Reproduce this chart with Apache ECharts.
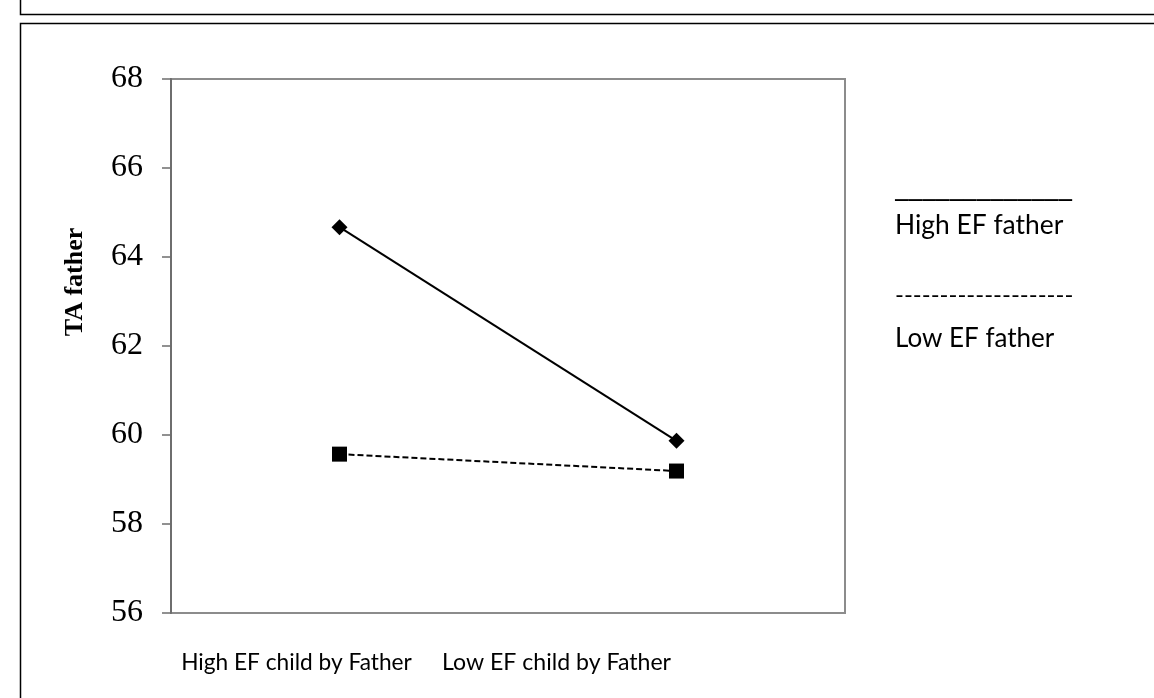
<!DOCTYPE html>
<html>
<head>
<meta charset="utf-8">
<script src="https://cdn.jsdelivr.net/npm/echarts@6/dist/echarts.min.js"></script>
<style>
html,body{margin:0;padding:0;background:#fff;}
#chart{width:1154px;height:698px;}
</style>
</head>
<body>
<div id="chart"></div>
<script>
const categories = ['High EF child by Father', 'Low EF child by Father'];
const highEFFather = [64.67, 59.87];
const lowEFFather = [59.57, 59.19];
const yTicks = { min: 56, max: 68, interval: 2 };
const seriesNames = ['High EF father', 'Low EF father'];
const yTitle = 'TA father';
const legendSolid = '_____________';
const legendDashed = '--------------------';

const sansFam = 'Lato, "Open Sans", sans-serif';
const lineFam = '"Open Sans", sans-serif';
const serif = '"Liberation Serif", "Times New Roman", serif';

const measureCtx = document.createElement('canvas').getContext('2d');
function fitSize(text, family, target, weight) {
  measureCtx.font = (weight ? weight + ' ' : '') + '100px ' + family;
  const w = measureCtx.measureText(text).width;
  return Math.round(100 * target / w * 10) / 10;
}

const chart = echarts.init(document.getElementById('chart'), null, { renderer: 'canvas' });

function build() {
  const xs0 = fitSize(categories[0], sansFam, 231);
  const xs1 = fitSize(categories[1], sansFam, 229);
  const ls0 = fitSize(seriesNames[0], sansFam, 168);
  const ls1 = fitSize(seriesNames[1], sansFam, 159);
  const lsS = fitSize(legendSolid, lineFam, 177);
  const lsD = fitSize(legendDashed, sansFam, 178);

  chart.setOption({
    animation: false,
    backgroundColor: '#ffffff',
    grid: {
      left: 171, top: 79, width: 674, height: 534,
      show: true, borderColor: '#8c8c8c', borderWidth: 2, backgroundColor: 'transparent'
    },
    xAxis: {
      type: 'category',
      data: categories,
      boundaryGap: true,
      axisLine: { show: false },
      axisTick: { show: false },
      axisLabel: {
        margin: 38,
        formatter: function (v, i) { return '{c' + i + '|' + v + '}'; },
        rich: {
          c0: { fontFamily: sansFam, fontSize: xs0, color: '#000', padding: [0, 86, 0, 0] },
          c1: { fontFamily: sansFam, fontSize: xs1, color: '#000', padding: [0, 240, 0, 0] }
        }
      },
      splitLine: { show: false }
    },
    yAxis: {
      type: 'value',
      min: yTicks.min, max: yTicks.max, interval: yTicks.interval,
      axisLine: { show: true, lineStyle: { color: '#6e6e6e', width: 2 } },
      axisTick: { show: true, inside: false, length: 9, lineStyle: { color: '#6e6e6e', width: 1.5 } },
      axisLabel: { fontFamily: serif, fontSize: 32, color: '#000', margin: 28 },
      splitLine: { show: false }
    },
    series: [
      {
        name: seriesNames[0], type: 'line', data: highEFFather,
        symbol: 'diamond', symbolSize: 16,
        itemStyle: { color: '#000' },
        lineStyle: { color: '#000', width: 2, type: 'solid' }
      },
      {
        name: seriesNames[1], type: 'line', data: lowEFFather,
        symbol: 'rect', symbolSize: 15,
        itemStyle: { color: '#000' },
        lineStyle: { color: '#000', width: 2, type: [6, 3] }
      }
    ],
    graphic: [
      { type: 'rect', silent: true, shape: { x: 20.5, y: -20, width: 1200, height: 34.5 },
        style: { fill: 'none', stroke: '#000', lineWidth: 1.5 } },
      { type: 'rect', silent: true, shape: { x: 20.5, y: 23.5, width: 1200, height: 1000 },
        style: { fill: 'none', stroke: '#000', lineWidth: 1.5 } },
      { type: 'text', x: 75, y: 282, rotation: Math.PI / 2,
        style: { text: yTitle, font: 'bold 26px ' + serif, fill: '#000', align: 'center', verticalAlign: 'middle' } },
      { type: 'text', x: 895, y: 187,
        style: { text: legendSolid, font: lsS + 'px ' + lineFam, fill: '#000', align: 'left', verticalAlign: 'middle' } },
      { type: 'text', x: 895, y: 225,
        style: { text: seriesNames[0], font: ls0 + 'px ' + sansFam, fill: '#000', align: 'left', verticalAlign: 'middle' } },
      { type: 'text', x: 895, y: 295,
        style: { text: legendDashed, font: lsD + 'px ' + sansFam, fill: '#000', align: 'left', verticalAlign: 'middle' } },
      { type: 'text', x: 895, y: 339,
        style: { text: seriesNames[1], font: ls1 + 'px ' + sansFam, fill: '#000', align: 'left', verticalAlign: 'middle' } }
    ]
  });
}

if (document.fonts && document.fonts.load) {
  Promise.all([
    document.fonts.load('100px Lato'),
    document.fonts.load('100px "Open Sans"'),
    document.fonts.load('100px "Liberation Serif"')
  ]).then(build, build);
} else {
  build();
}
</script>
</body>
</html>
